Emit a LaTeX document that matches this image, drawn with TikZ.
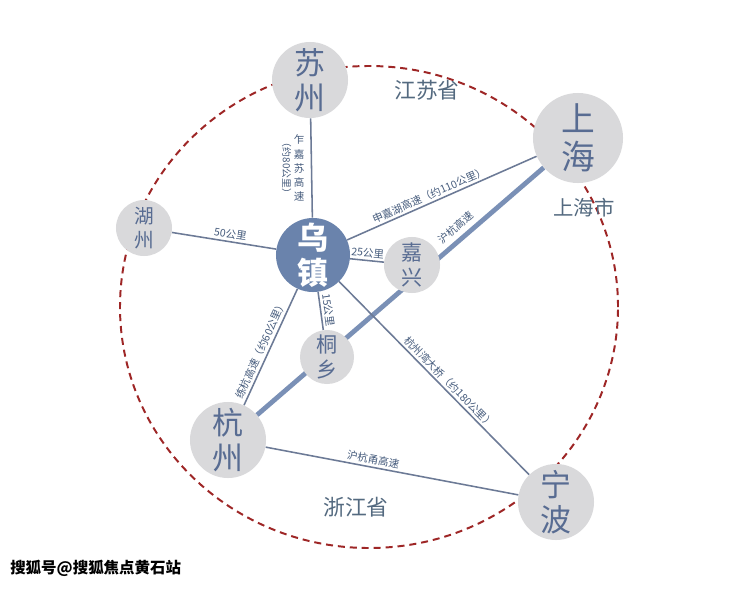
\documentclass[tikz,border=0pt]{standalone}
\usepackage{fontspec}
\setmainfont{Noto Sans CJK SC}
\usetikzlibrary{positioning, backgrounds}
\usepackage{xcolor}
\definecolor{citycolor}{RGB}{217, 217, 219}
\definecolor{citytext}{RGB}{88, 108, 146}
\definecolor{wuzhencolor}{RGB}{106, 131, 172}
\definecolor{roadcolor}{RGB}{108, 122, 150}
\definecolor{railcolor}{RGB}{122, 144, 182}
\definecolor{labelcolor}{RGB}{70, 92, 125}
\definecolor{provincecolor}{RGB}{84, 106, 128}
\definecolor{boundarycolor}{RGB}{158, 38, 38}

\begin{document}
\begin{tikzpicture}[x=0.025cm, y=0.025cm,
    city/.style={circle, fill=citycolor, text=citytext, align=center, inner sep=0pt,
                 minimum size=#1, font=\fontsize{22}{25}\selectfont},
    smallcity/.style={city=#1, font=\fontsize{15}{18}\selectfont},
    road/.style={draw=roadcolor, line width=1.1pt},
    rail/.style={draw=railcolor, line width=3.4pt},
    roadlabel/.style={font=\fontsize{7.5}{8}\selectfont, text=labelcolor, sloped, above, inner sep=1.5pt},
    province/.style={text=provincecolor, font=\fontsize{15.5}{17}\selectfont},
    boundary/.style={draw=boundarycolor, line width=1.4pt, dash pattern=on 5pt off 3.5pt}
]
\useasboundingbox (0,0) rectangle (740,588);

% Cities
\node[city=1.9cm] (suzhou) at (310,508) {苏\\州};
\node[city=2.25cm, font=\fontsize{24}{27}\selectfont] (shanghai) at (578,450) {上\\海};
\node[smallcity=1.4cm, font=\fontsize{14}{17}\selectfont] (huzhou) at (144,360) {湖\\州};
\node[city=1.85cm, fill=wuzhencolor, text=white, font=\fontsize{22}{25}\selectfont\bfseries] (wuzhen) at (313,333) {乌\\镇};
\node[smallcity=1.4cm] (jiaxing) at (412,323) {嘉\\兴};
\node[smallcity=1.35cm] (tongxiang) at (327,231) {桐\\乡};
\node[city=1.9cm] (hangzhou) at (228,148) {杭\\州};
\node[city=1.9cm] (ningbo) at (556,86) {宁\\波};

% Provinces
\node[province] (jiangsu) at (427,498) {江苏省};
\node[province, font=\fontsize{14.5}{16}\selectfont] (shanghaishi) at (584,380) {上海市};
\node[province] (zhejiang) at (356,81) {浙江省};

% Connections
\begin{pgfonlayer}{background}
\fill[white] (0,0) rectangle (740,588);
\draw[boundary] (369,281) ellipse [x radius=249, y radius=241];
\draw[rail] (hangzhou) -- (shanghai) node[roadlabel, pos=0.72, yshift=2pt] {沪杭高速};
\draw[road] (suzhou) -- (wuzhen)
    node[pos=0.5, left=4.5pt, align=center, inner sep=0pt, text=labelcolor,
         font=\fontsize{7.5}{10}\selectfont] (zhajiasu) {乍\\嘉\\苏\\高\\速};
\node[rotate=-90, anchor=north, inner sep=1pt, text=labelcolor,
      font=\fontsize{7}{8}\selectfont] (zhajiasukm) at (zhajiasu.west) {（约80公里）};
\draw[road] (huzhou) -- (wuzhen) node[roadlabel, pos=0.55] {50公里};
\draw[road] (wuzhen) -- (shanghai) node[roadlabel, pos=0.45] {申嘉湖高速（约110公里）};
\draw[road] (wuzhen) -- (jiaxing) node[roadlabel, pos=0.5] {25公里};
\draw[road] (wuzhen) -- (tongxiang) node[roadlabel, pos=0.5] {15公里};
\draw[road] (hangzhou) -- (wuzhen) node[roadlabel, pos=0.45] {练杭高速（约60公里）};
\draw[road] (wuzhen) -- (ningbo) node[roadlabel, pos=0.55] {杭州湾大桥（约180公里）};
\draw[road] (hangzhou) -- (ningbo) node[roadlabel, pos=0.42] {沪杭甬高速};
\end{pgfonlayer}

% Watermark
\node[anchor=west, inner sep=0pt, font=\fontsize{11}{12}\selectfont\bfseries] (mark) at (10,20) {搜狐号@搜狐焦点黄石站};

\end{tikzpicture}
\end{document}
